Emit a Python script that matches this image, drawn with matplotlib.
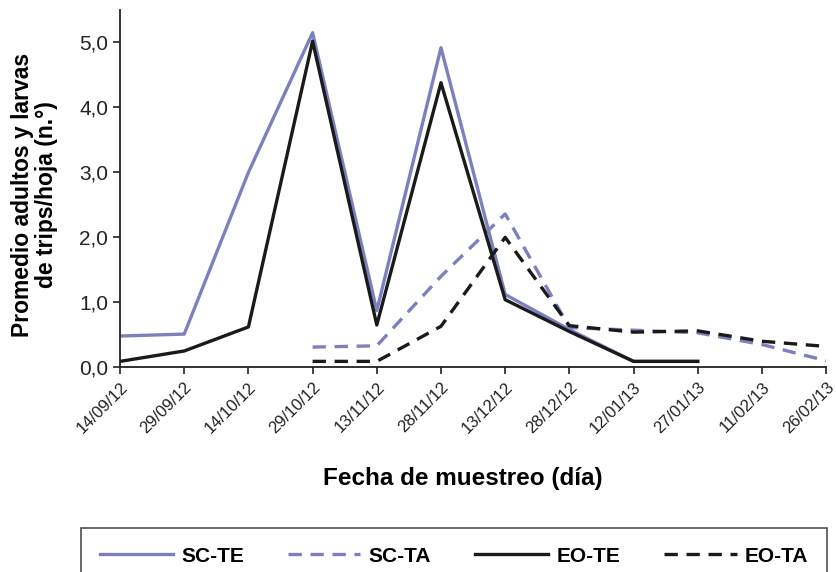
import numpy as np
import matplotlib
matplotlib.use("Agg")
import matplotlib.pyplot as plt

plt.rcParams["font.family"] = ["Liberation Sans", "DejaVu Sans"]

# -- Data ----------------------------------------------------------------------

dates = ["14/09/12", "29/09/12", "14/10/12", "29/10/12", "13/11/12", "28/11/12",
         "13/12/12", "28/12/12", "12/01/13", "27/01/13", "11/02/13", "26/02/13"]

sc_te = [0.48, 0.51, 3.0, 5.15, 0.87, 4.92, 1.12, 0.58, 0.09, 0.09, None, None]
sc_ta = [None, None, None, 0.31, 0.33, 1.40, 2.36, 0.61, 0.57, 0.53, 0.35, 0.10]
eo_te = [0.09, 0.25, 0.62, 5.02, 0.65, 4.38, 1.04, 0.55, 0.09, 0.09, None, None]
eo_ta = [None, None, None, 0.09, 0.09, 0.63, 2.0, 0.64, 0.54, 0.56, 0.40, 0.32]

PURPLE = "#7d80bf"
BLACK = "#1a1a1a"


def arr(vals):
    return np.array([np.nan if v is None else v for v in vals], dtype=float)


x = np.arange(len(dates))

# -- Plot ----------------------------------------------------------------------

fig = plt.figure(figsize=(8.37, 5.72), dpi=100)
ax = fig.add_axes([0.1434, 0.358, 0.8436, 0.6245])

dash = (0, (4, 2.6))
l1, = ax.plot(x, arr(sc_te), color=PURPLE, lw=2.4, label="SC-TE")
l2, = ax.plot(x, arr(sc_ta), color=PURPLE, lw=2.4, ls=dash, label="SC-TA")
l3, = ax.plot(x, arr(eo_te), color=BLACK, lw=2.4, label="EO-TE")
l4, = ax.plot(x, arr(eo_ta), color=BLACK, lw=2.4, ls=dash, label="EO-TA")

ax.set_xlim(0, len(dates) - 1)
ax.set_ylim(0, 5.5)
ax.set_yticks(np.arange(0, 5.1, 1.0))
ax.set_yticklabels([f"{v:.1f}".replace(".", ",") for v in np.arange(0, 5.1, 1.0)],
                   fontsize=15)
ax.set_xticks(x)
ax.set_xticklabels(dates, rotation=45, ha="right", rotation_mode="anchor", fontsize=12)
ax.tick_params(direction="out", length=5, width=1.2, colors="#222222")
ax.tick_params(axis="x", pad=4)

for side in ("top", "right"):
    ax.spines[side].set_visible(False)
for side in ("left", "bottom"):
    ax.spines[side].set_linewidth(1.3)
    ax.spines[side].set_color("#222222")

fig.text(0.041, 0.659, "Promedio adultos y larvas\nde trips/hoja (n.°)", rotation=90,
         ha="center", va="center", fontsize=16.5, fontweight="bold", linespacing=1.05)
fig.text(0.553, 0.164, "Fecha de muestreo (día)", ha="center", va="center",
         fontsize=17.5, fontweight="bold")

leg = fig.legend(handles=[l1, l2, l3, l4], loc="upper left",
                 bbox_to_anchor=(0.0968, 0.077), ncol=4,
                 frameon=True, fancybox=False, edgecolor="#222222",
                 prop={"weight": "bold", "size": 15}, handlelength=3.5,
                 borderpad=0.9, handletextpad=0.4, columnspacing=2.1,
                 borderaxespad=0)
leg.get_frame().set_linewidth(1.2)

fig.savefig("out.png", dpi=100)
